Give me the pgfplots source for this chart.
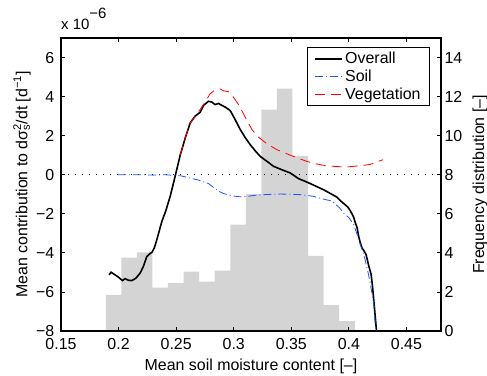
\documentclass[border=0pt]{standalone}
\usepackage{fontspec}
\setmainfont{Liberation Sans}
\usepackage{pgfplots}
\pgfplotsset{compat=1.18}
\definecolor{histgray}{RGB}{212,212,212}
\definecolor{soilblue}{RGB}{30,80,255}
\begin{document}
\begin{tikzpicture}
% ---------- histogram (right axis) ----------
\begin{axis}[
  width=380bp, height=293bp, scale only axis,
  at={(0,0)}, anchor=south west,
  xmin=0.15, xmax=0.48, ymin=0, ymax=15,
  axis x line=none, axis y line=right,
  axis line style={-, line width=1.1bp},
  ytick={0,2,4,6,8,10,12,14}, yticklabels={0,2,4,6,8,10,12,14},
  tick align=inside, major tick length=4bp,
  every tick/.style={black, line width=0.8bp},
  tick label style={font=\fontsize{16}{19}\selectfont},
  ylabel={Frequency distribution [–]},
  ylabel style={font=\fontsize{16}{19}\selectfont, at={(axis description cs:1.1026,0.5)}, anchor=center},
]
\addplot[ybar interval, fill=histgray, draw=none] coordinates {
(0.1889,1.85) (0.2024,3.76) (0.2159,4.02) (0.2294,2.22) (0.2429,2.46)
(0.2565,3.04) (0.2700,2.53) (0.2835,3.09) (0.2970,5.45) (0.3105,7.01)
(0.3240,11.33) (0.3375,12.41) (0.3510,8.97) (0.3645,3.85) (0.3781,1.33)
(0.3916,0.50) (0.4051,0.50)
};
\end{axis}
% ---------- curves (left axis) ----------
\begin{axis}[
  width=380bp, height=293bp, scale only axis,
  at={(0,0)}, anchor=south west,
  clip mode=individual,
  xmin=0.15, xmax=0.48, ymin=-8, ymax=7,
  xtick={0.15,0.2,0.25,0.3,0.35,0.4,0.45},
  xticklabels={0.15,0.2,0.25,0.3,0.35,0.4,0.45},
  ytick={-8,-6,-4,-2,0,2,4,6},
  yticklabels={−8,−6,−4,−2,0,2,4,6},
  ytick pos=left, xtick pos=both,
  tick align=inside, major tick length=4bp,
  axis line style={line width=1.1bp},
  every tick/.style={black, line width=0.8bp},
  tick label style={font=\fontsize{16}{19}\selectfont},
  xticklabel style={inner sep=1bp, yshift=-6.5bp},
  yticklabel style={inner sep=1bp, xshift=-5.5bp},
  label style={font=\fontsize{16}{19}\selectfont},
  xlabel={Mean soil moisture content [–]},
  xlabel style={at={(axis description cs:0.5,-0.1195)}, anchor=center},
  ylabel={Mean contribution to dσ\rlap{\textsuperscript{2}}\textsubscript{s}/dt [d\textsuperscript{−1}]},
  ylabel style={at={(axis description cs:-0.1026,0.5)}, anchor=center},
  legend cell align=left,
  legend style={at={(1,1)}, anchor=north east, xshift=-11bp, yshift=-9bp,
    draw=black, line width=0.9bp, fill=white,
    font=\fontsize{16}{19}\selectfont, row sep=0.5bp, inner xsep=7bp, inner ysep=3bp},
  legend image code/.code={\draw[#1] plot coordinates {(0cm,0cm) (0.95cm,0cm)};},
]
\addplot[black, line width=0.6bp, dash pattern=on 1bp off 6bp, forget plot] coordinates {(0.15,0) (0.48,0)};
\addplot[black, line width=1.6bp, legend image post style={line width=1.6bp}] coordinates {
(0.1917,-5.13) (0.1935,-4.99) (0.1970,-5.13) (0.2000,-5.25) (0.2033,-5.42)
(0.2057,-5.32) (0.2085,-5.40) (0.2115,-5.42) (0.2150,-5.30) (0.2187,-5.04)
(0.2215,-4.70) (0.2245,-4.19) (0.2270,-4.05) (0.2289,-3.98) (0.2310,-3.75)
(0.2332,-3.33) (0.2376,-2.39) (0.2410,-1.85) (0.2448,-1.11) (0.2491,-0.09)
(0.2535,1.00) (0.2580,1.90) (0.2622,2.65) (0.2665,3.00) (0.2709,3.20)
(0.2738,3.55) (0.2781,3.76) (0.2810,3.72) (0.2839,3.59) (0.2868,3.65)
(0.2897,3.55) (0.2930,3.45) (0.2970,3.28) (0.3010,2.85) (0.3057,2.31)
(0.3100,1.90) (0.3143,1.54) (0.3190,1.20) (0.3230,0.94) (0.3290,0.68)
(0.3346,0.43) (0.3420,0.25) (0.3491,0.09) (0.3563,-0.20) (0.3637,-0.38)
(0.3700,-0.55) (0.3781,-0.77) (0.3839,-0.96) (0.3897,-1.15) (0.3930,-1.35)
(0.3960,-1.50) (0.3990,-1.65) (0.4013,-1.85) (0.4040,-2.15) (0.4057,-2.48)
(0.4071,-2.70) (0.4085,-3.16) (0.4100,-3.50) (0.4115,-3.76) (0.4135,-3.93)
(0.4150,-4.10) (0.4172,-4.65) (0.4193,-5.10) (0.4205,-5.70) (0.4216,-6.41)
(0.4228,-7.20) (0.4240,-8.00)
};
\addlegendentry{Overall}
\addplot[soilblue, line width=0.8bp, dash pattern=on 8bp off 3bp on 1bp off 3bp] coordinates {
(0.1996,0) (0.2100,0) (0.2200,0.0) (0.2300,-0.02) (0.2400,0.0)
(0.2450,-0.02) (0.2500,-0.05) (0.2535,-0.05) (0.2622,-0.17) (0.2709,-0.30)
(0.2780,-0.45) (0.2824,-0.65) (0.2870,-0.85) (0.2911,-0.96) (0.2980,-1.08)
(0.3057,-1.13) (0.3130,-1.10) (0.3202,-1.04) (0.3300,-1.01) (0.3404,-0.99)
(0.3500,-1.00) (0.3578,-1.02) (0.3637,-1.06) (0.3694,-1.11) (0.3781,-1.25)
(0.3839,-1.33) (0.3868,-1.42) (0.3920,-1.70) (0.3955,-1.97) (0.4000,-2.20)
(0.4042,-2.55) (0.4071,-3.05) (0.4100,-3.60) (0.4129,-4.05) (0.4172,-5.15)
(0.4202,-6.10) (0.4216,-6.60) (0.4230,-7.78) (0.4237,-8.00)
};
\addlegendentry{Soil}
\addplot[red, line width=0.8bp, dash pattern=on 10bp off 6bp] coordinates {
(0.2535,1.00) (0.2580,1.90) (0.2622,2.65) (0.2680,3.10) (0.2737,3.59)
(0.2796,4.15) (0.2840,4.35) (0.2883,4.39) (0.2910,4.30) (0.2955,4.25)
(0.3000,3.95) (0.3042,3.59) (0.3100,2.95) (0.3143,2.48) (0.3158,2.31)
(0.3220,1.90) (0.3289,1.58) (0.3376,1.28) (0.3491,1.00) (0.3580,0.80)
(0.3637,0.68) (0.3694,0.58) (0.3810,0.45) (0.3926,0.41) (0.3984,0.40)
(0.4100,0.46) (0.4187,0.53) (0.4297,0.77)
};
\addlegendentry{Vegetation}
\node[anchor=base west, inner sep=0pt, font=\fontsize{15}{17}\selectfont] at ([yshift=8bp]rel axis cs:0,1) {x 10\raisebox{11bp}{−6}};
\coordinate (bl) at (rel axis cs:0,0);
\coordinate (tr) at (rel axis cs:1,1);
\end{axis}
\pgfresetboundingbox
\path[use as bounding box] ([shift={(-61bp,-45bp)}]bl) rectangle ([shift={(46bp,38bp)}]tr);
\end{tikzpicture}
\end{document}
